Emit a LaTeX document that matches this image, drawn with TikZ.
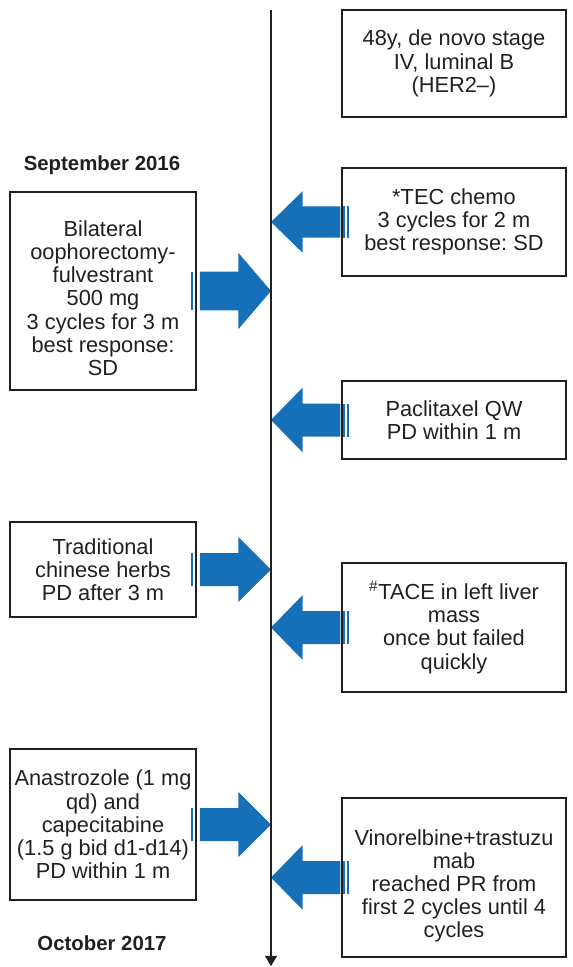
\documentclass[tikz,border=0pt]{standalone}
\usepackage{fontspec}
\setmainfont{Liberation Sans}
\usepackage{tikz}
\usetikzlibrary{calc,arrows.meta,backgrounds}
\definecolor{arrowblue}{RGB}{21,112,184}
\definecolor{inkgray}{RGB}{35,31,32}
\frenchspacing
\newcommand{\stripedarrow}[3][1]{%
	\fill[arrowblue] ($(#2)+(0,0.33*#1)$) rectangle ($(#2)!0.025!(#3)+(0,-0.33*#1)$);
	\fill[arrowblue] ($(#2)!0.055!(#3)+(0,0.33*#1)$) rectangle ($(#2)!0.085!(#3)+(0,-0.33*#1)$);
	\fill[arrowblue] ($(#2)!0.115!(#3)+(0,0.33*#1)$) -- ($(#2)!0.595!(#3)+(0,0.33*#1)$)
		-- ($(#2)!0.595!(#3)+(0,0.65*#1)$) -- (#3) -- ($(#2)!0.595!(#3)+(0,-0.65*#1)$)
		-- ($(#2)!0.595!(#3)+(0,-0.33*#1)$) -- ($(#2)!0.115!(#3)+(0,-0.33*#1)$) -- cycle;}

\begin{document}
\begin{tikzpicture}[
	box/.style={draw=inkgray, line width=0.75pt, inner sep=0pt, align=center, text=inkgray,
		font=\fontsize{12.4}{13.2}\selectfont},
	rbox/.style={box, minimum width=4.48cm},
	lbox/.style={box, minimum width=3.72cm},
	datelabel/.style={text=inkgray, font=\fontsize{11.6}{13}\selectfont\bfseries}]
	\useasboundingbox (0,0) rectangle (11.46,-19.34);
	
	% time axis
	\coordinate (t) at (5.42,-0.2);
	\coordinate (b) at (5.42,-19.32);
	\draw[inkgray, line width=0.6pt, -{Triangle[width=6.8pt,length=5.7pt]}] (t) -- (b);
	
	\node[datelabel] (sep) at (2.04,-3.30) {September 2016};
	\node[datelabel] (oct) at (2.04,-18.86) {October 2017};
	
	% right column
	\node[rbox, minimum height=2.14cm] (0) at (9.08,-1.27) {48y, de novo stage\\IV, luminal B\\(HER2–)};
	\node[rbox, minimum height=2.16cm] (1) at (9.08,-4.44) {*TEC chemo\\3 cycles for 2 m\\best response: SD};
	\node[rbox, minimum height=1.56cm] (3) at (9.08,-8.40) {Paclitaxel QW\\PD within 1 m};
	\node[rbox, minimum height=2.58cm] (5) at (9.08,-12.55) {\textsuperscript{\#}TACE in left liver\\mass\\once but failed\\quickly};
	\node[rbox, minimum height=3.18cm] (7) at (9.08,-17.55) {\rule{0pt}{0.65cm}Vinorelbine+trastuzu\\mab\\reached PR from\\first 2 cycles until 4\\cycles};
	
	% left column
	\node[lbox, minimum height=3.96cm] (2) at (2.06,-5.82) {\rule{0pt}{0.6cm}Bilateral\\oophorectomy-\\fulvestrant\\500 mg\\3 cycles for 3 m\\best response:\\SD};
	\node[lbox, minimum height=1.90cm] (4) at (2.06,-11.39) {Traditional\\chinese herbs\\PD after 3 m};
	\node[lbox, minimum height=3.02cm] (6) at (2.06,-16.49) {Anastrozole (1 mg\\qd) and\\capecitabine\\(1.5 g bid d1-d14)\\PD within 1 m};
	
	\foreach \n in {1,3,5,7}{
		\coordinate (s\n) at ($(\n.west)+(0.16,0)$);
		\coordinate (a\n) at (\n.west -| t);
	}
	\foreach \n in {2,4,6}{
		\coordinate (s\n) at ($(\n.east)+(-0.12,0)$);
		\coordinate (a\n) at (\n.east -| t);
	}
	
	\begin{scope}[on background layer]
		\stripedarrow[0.95]{s1}{a1}
		\stripedarrow[1.17]{s2}{a2}
		\stripedarrow{s3}{a3}
		\stripedarrow{s4}{a4}
		\stripedarrow{s5}{a5}
		\stripedarrow{s6}{a6}
		\stripedarrow{s7}{a7}
	\end{scope}
\end{tikzpicture}
\end{document}
